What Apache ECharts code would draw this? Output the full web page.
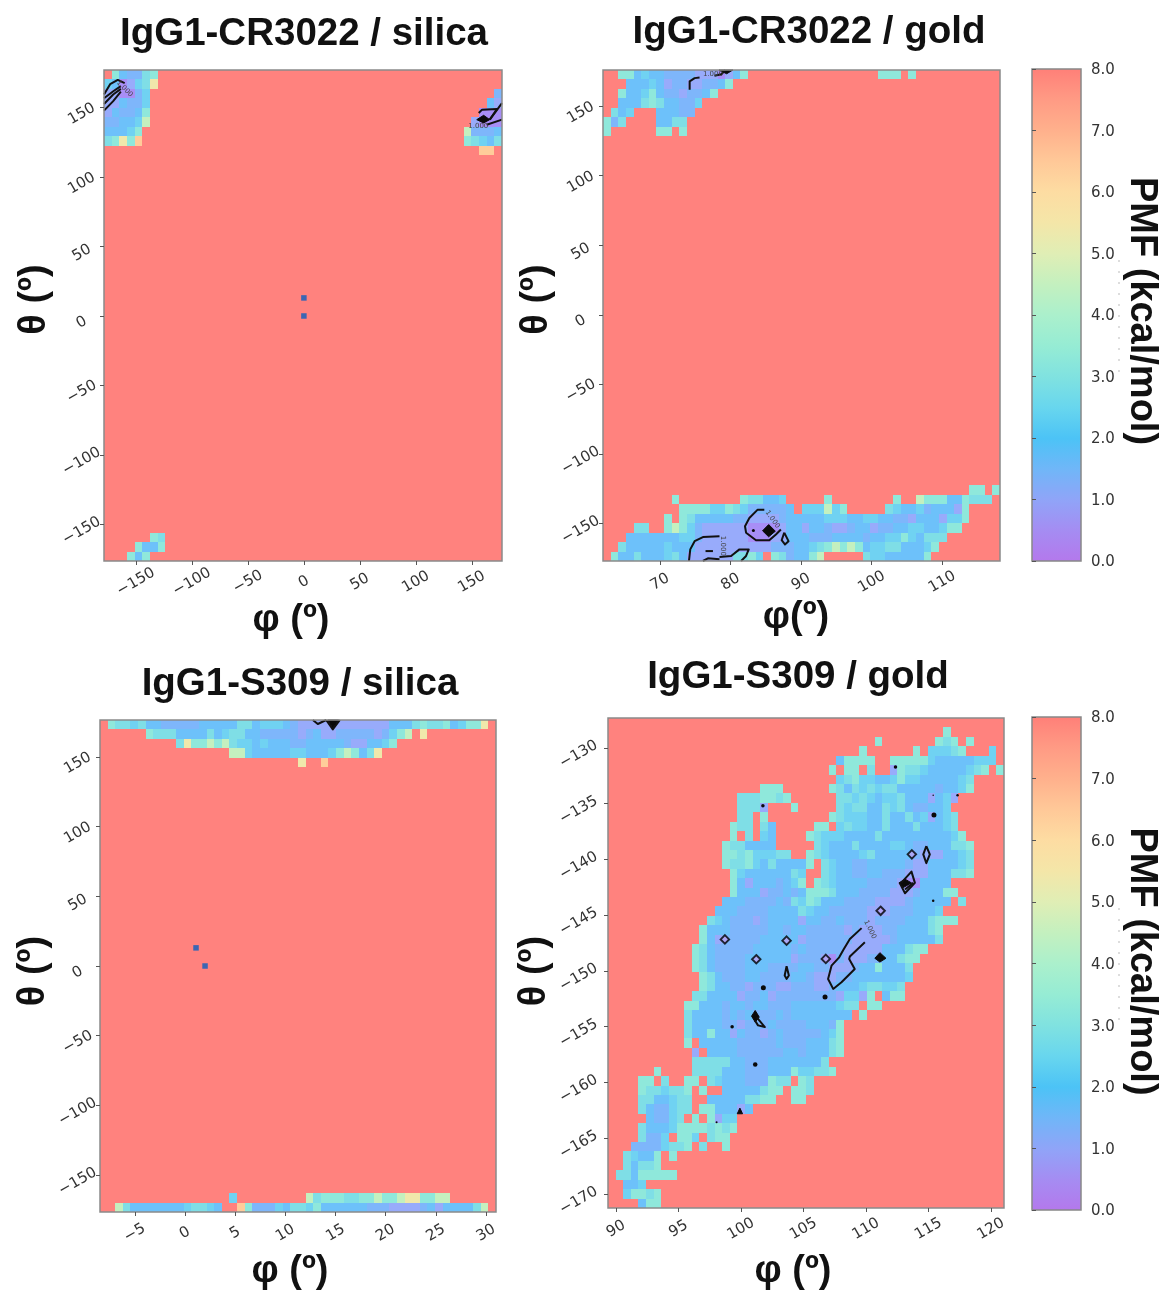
<!DOCTYPE html>
<html><head><meta charset="utf-8">
<style>html,body{margin:0;padding:0;background:#fff}#c{width:1162px;height:1292px;filter:blur(0.45px)}</style>
<script src="https://cdn.jsdelivr.net/npm/echarts@6/dist/echarts.min.js"></script>
</head><body><div id="c"></div>
<script>
// PMF value for each digit used in the cell rows; cells not listed are capped at 8 kcal/mol.
const levelPMF = [0.5, 1.12, 1.55, 1.9, 2.4, 2.85, 3.3, 4.5, 5.4, 6.4];
const gridSize = 52;

// Each cell row: [row from top, first column, digits ('.' = capped cell)]
const cellsCrSilica = [
[0,1,"632256"],[1,0,"4301458"],[2,0,"110024"],[3,0,"113224"],[4,0,"132236"],[5,0,"223347"],[6,0,"33346"],[7,0,"56869"],
[2,51,"2"],[3,50,"31"],[4,49,"000"],[5,48,"1000"],[6,47,"72223"],[7,47,"65435"],[8,49,"99"],
[49,6,"65"],[50,4,"6336"],[51,3,"636"]
];
const cellsCrGold = [
[0,2,"66343322221110136"],[0,36,"666.6"],
[1,3,"33343122112236"],[2,2,"6334632212236"],[3,2,"33356533224"],
[4,1,"534"],[4,7,"33322"],[5,0,"625"],[5,7,"3355"],[6,0,"6"],[6,7,"66.6"],
[44,48,"66.6"],
[45,9,"6"],[45,18,"655334"],[45,29,"6"],[45,38,"6"],[45,41,"7666336555"],
[46,10,"666644654222223"],[46,26,"444746"],[46,37,"54334233316"],
[47,8,"6"],[47,10,"65333 33221 11123 33334 44334 43322 13331 446"],
[48,4,"55"],[48,8,"67642 11111 10000 13313 32112 33122 33443 3466"],
[49,3,"3333333 442 111111 000 11 333 222 3333 2 33 44 6 4 3 555"],
[50,2,"5 33333 4 333 1111111111 222 33 4 5 6 7 6 7 6 3 44 55 333 4 6"],
[51,1,"6335333 45 3 111111 55 6 4 . 6 5 2 3 3 6 7"],[51,34,"544333336"]
];
const cellsS309Silica = [
[0,1,"65545 33 22222 33333 55 3 444 3 2 111111111111 33 3 5 6 5 5 6 3 4 66 8"],
[1,6,"6555 3333 5 3 4 55 33 22222 1 2 3 11 22222 1 2 4 67 . 8"],
[2,10,"586 67 675 44 3 4 333 22 3333 3 2 11 33 4 6"],
[3,17,"77 4 33333 44 33 3 4 6 7 6 3 5 8"],
[4,26,"8"],[4,29,"9"],
[50,17,"4"],[50,27,"7 5 666 55 66 7 6 6 7 88 66 77"],
[51,2,"75 333333 3 4 55 4 3"],[51,18,"96 222 4 3 55 4 6 333333 222 1111 2 3 1 3333 5 7"]
];
const cellsS309Gold = [
[1,44,"6"],
[2,35,"6"],[2,43,"656"],[2,47,"6"],
[3,33,"6"],[3,40,"6"],[3,42,"44456"],[3,50,"4"],
[4,30,"36666"],[4,37,"66666433333444"],
[5,29,"6"],[5,31,"66"],[5,34,"5"],[5,37,"1 655433333456"],[5,51,"6"],
[6,30,"456443346 443333345"],
[7,20,"666"],[7,29,"6535454553333323346"],
[8,17,"5556656"],[8,30,"5545434453331341"],
[9,17,"5551"],[9,24,"6"],[9,30,"545533545322334"],
[10,17,"55"],[10,20,"6"],[10,29,"65444335335341345"],
[11,16,"655"],[11,20,"53"],[11,27,"66"],[11,30,"4544335333533345"],
[12,16,"6"],[12,18,"5"],[12,20,"43"],[12,26,"65444 33335 33333 33334 6"],
[13,15,"6553333"],[13,27,"543335333344322333556"],
[14,15,"665644455"],[14,26,"6543333453333321113345"],
[15,15,"655643533336"],[15,28,"54332233333211333345"],
[16,16,"6433333354"],[16,28,"54332233222111333556"],
[17,16,"6313332346"],[17,27,"654333322221003333"],
[18,16,"6333 1223 2366 6533 3222 2111 2333 66"],
[19,15,"3332 2223 2546 5333 2222 1111 2333 33.5"],
[20,14,"3332222333 3543322222 1112223334"],
[21,13,"5432 2212 3333 1332 2322 2122 2233 3566 6"],
[22,12,"6333 2222 2332 3322 2221 2111 2233 3356"],
[23,12,"6312 2222 3333 3122 2222 1111 1233 3335"],
[24,11,"6532 2222 3333 3232 2222 1111 1333 566"],
[25,11,"6532 2223 3333 3122 2102 1112 2335 66"],
[26,11,"6532 2223 3322 2233 2211 1233 6333 5"],
[27,12,"6532 2233 2222 3321 1122 3333 3334"],
[28,12,"6533 2212 2211 2221 1233 3455 445"],
[29,11,"5533 3312 2312 2222 2221 4416.366"],
[30,10,"6633 3233 2332 2233 3333 455.66"],
[31,10,"5333 3232 3222 3233 3333 33.6"],
[32,10,"5333 3221 2223 2222 3332 6"],
[33,10,"5336 3313 2212 3222 2234 6"],
[34,10,"6.33 3332 2222 3222 3335 6"],
[35,11,"1.33 3322 2222 3323 3356"],
[36,11,"5555 5332 2233 3333 35"],
[37,6,"6"],[37,11,"5555 3332 2233 3644 556"],
[38,4,"66.5..66.543 3322 2655.65"],
[39,4,"6554556.6..333 33566.665"],
[40,4,"5533455..3333 35566..66"],
[41,4,"5322455.66 33313"],
[42,5,"32245.6.6 144"],
[43,4,"5333 4666 6565 6"],
[44,4,"5224.664.566"],
[45,3,"22224556.5..6"],
[46,2,"54336.6"],[47,2,"53556"],[48,1,"55366666"],[49,2,"334"],[50,2,"46656"],[51,4,"366"]
];

// Axis ranges [min, max] and tick values of each panel
const phiCrSilica = [-178.6, 177], thetaCrSilica = [-176.3, 177];
const phiCrGold = [61.9, 118.2], thetaCrGold = [-177, 176];
const phiS309Silica = [-8.47, 31], thetaS309Silica = [-176.4, 176.4];
const phiS309Gold = [89.36, 121.04], thetaS309Gold = [-171.25, -127.32];
const ticksPhiCrSilica = [-150,-100,-50,0,50,100,150];
const ticksPhiCrGold = [70,80,90,100,110];
const ticksPhiS309Silica = [-5,0,5,10,15,20,25,30];
const ticksPhiS309Gold = [90,95,100,105,110,115,120];
const ticksTheta = [-150,-100,-50,0,50,100,150];
const ticksThetaS309Gold = [-170,-165,-160,-155,-150,-145,-140,-135,-130];

// Isolated dark bins [phi, theta]
const binsCrSilica = [[0,13],[0,0]];
const binsS309Silica = [[1.1,13],[2,0]];

// 1 kcal/mol contours in grid units [column, row]
const linesCrSilica = [
 [[0,2.6],[0.8,1.5],[1.8,1.05],[2.7,1.4]],[[0,3.0],[1.3,2.2],[2.2,1.7]],[[0,3.6],[1.2,2.6],[2.2,2.0]],[[0,4.3],[1.2,3.3],[2.2,2.3]],
 [[48.96,4.56],[49.4,4.2],[51.35,4.14],[50.4,5.26]],[[50.4,5.26],[52,3.5]],[[50,5.8],[52,5.26]]
];
const fillsCrSilica = [[[48.7,5.26],[49.6,4.8],[50.4,5.26],[49.6,5.6]]];
const labelsCrSilica = [[2.7,2,-45],[48.9,6,0]];
const linesCrGold = [
 [[11.35,2.1],[11.35,1.2],[12,0.86],[12.65,0.8]],[[14.6,0.6],[15.5,0.45],[16,0.03]],
 [[11.26,52],[11.43,50.77],[12,49.9],[13.09,49.47],[15.26,49.37]],
 [[15.26,51.58],[16.78,51.47],[17.87,50.77],[19.09,50.77],[18.74,51.47],[18.09,52]],
 [[13.09,52],[13.74,51.72],[15.26,51.82]],[[13.43,50.95],[14.4,50.95]],
 [[21.13,46.56],[20.26,46.56],[19.17,47.44],[18.6,48.32],[18.74,49],[20.04,49.8],[21.78,49.8],[22.65,49.2],[23.3,48.67]],
 [[23.74,49],[24.3,49.9],[23.83,50.25],[23.4,49.8],[23.74,49]]
];
const fillsCrGold = [[[20.9,48.8],[21.7,48.14],[22.57,48.84],[21.7,49.44]],[[15.2,0],[17,0],[16.2,0.4]]];
const labelsCrGold = [[14.4,0.4,0],[22.2,47.6,-55],[15.7,50.4,-90]];
const dotsCrGold = [[19.7,48.77,3]];
const linesS309Silica = [[[27.95,0],[28.6,0.42],[29.7,0]],[[29.7,0],[30.57,1],[31.5,0]]];
const fillsS309Silica = [[[29.9,0],[31.35,0],[30.57,0.88]]];
const linesS309Gold = [
 [[41.8,13.6],[42.26,14.47],[41.8,15.4],[41.4,14.47],[41.8,13.6]],
 [[38.5,17.5],[39.85,16.3],[40.3,17.5],[39,18.6],[38.3,17.5]],[[39,18.2],[40.1,17.5]],
 [[33.3,22.3],[31.76,23.45],[30.97,24.52],[30.36,25.4],[29.35,26.28],[28.9,27.69],[29.57,28.75],[30.66,28.04],[32.4,26.63],[31.67,25.58],[31.76,25.3],[33.73,23.8]],
 [[23.45,26.34],[23.75,27.33],[23.45,27.68],[23.2,27.33],[23.45,26.34]],
 [[19.5,31.74],[20.6,32.8],[19.7,32.62],[19.3,32.1]]
];
const fillsS309Gold = [
 [[38.2,17.5],[39,17.1],[39.85,17.5],[38.76,18]],[[35.04,25.5],[35.7,24.9],[36.5,25.5],[35.7,25.9]],
 [[18.85,31.64],[19.33,31.04],[19.86,31.74],[19.33,32.27]],[[16.97,42],[17.32,41.4],[17.67,42]]
];
const ringsS309Gold = [[39.9,14.47],[35.8,20.46],[15.35,23.5],[23.45,23.63],[19.47,25.6],[28.6,25.57]];
const dotsS309Gold = [[37.75,5.2,3.5],[42.7,8.2,1.5],[45.9,8.2,2.5],[42.8,10.3,5],[20.34,9.3,3.5],[16.3,32.76,3.5],[20.4,28.63,5],[28.5,29.6,5],[19.33,36.78,4.5],[14.26,42.9,2],[42.7,19.4,2.5]];
const labelsS309Gold = [[34.4,22.45,-65]];

// Colour scales: colorbar as printed, and the slightly paler map cells
const barStops = ['#b478ec','#a58cf2','#90a4f8','#70b6f8','#4cc3f6','#68d6ee','#80e2e0','#96ecd4','#abf0cc','#c4f0bf','#e0eeb5','#f4e6a8','#fddca2','#ffc898','#ffb08c','#ff9a84','#ff7f78'];
const cellStops = ['#b080f4','#a88ef6','#a0a8fb','#80b4fb','#68c4fa','#72d6f0','#84e2e2','#96ecd6','#abf0cc','#c4f0bf','#e0eeb5','#f4e6a8','#fddca2','#ffc898','#ffb08c','#ff9a84','#ff827e'];
const pmfColor = v => echarts.color.lerp(Math.max(0, Math.min(1, v/8)), cellStops);

const panels = [
 {title:"IgG1-CR3022 / silica", tx:304, ty:15, g:[104,70,398,491], phi:phiCrSilica, theta:thetaCrSilica, cells:cellsCrSilica, tpx:ticksPhiCrSilica, tpy:ticksTheta, ym:26,
  xn:"φ (º)", xpad:[0,24,0,0], xgap:18, ypad:[0,0,0,32], ygap:50, bins:binsCrSilica, lines:linesCrSilica, fills:fillsCrSilica, labels:labelsCrSilica, dots:[], rings:[]},
 {title:"IgG1-CR3022 / gold", tx:809, ty:13, g:[603,70,397,491], phi:phiCrGold, theta:thetaCrGold, cells:cellsCrGold, tpx:ticksPhiCrGold, tpy:ticksTheta, ym:26,
  xn:"φ(º)", xpad:[0,11,0,0], xgap:20, ypad:[0,0,0,32], ygap:46, bins:[], lines:linesCrGold, fills:fillsCrGold, labels:labelsCrGold, dots:dotsCrGold, rings:[]},
 {title:"IgG1-S309 / silica", tx:300, ty:665, g:[100,720,396,494], phi:phiS309Silica, theta:thetaS309Silica, cells:cellsS309Silica, tpx:ticksPhiS309Silica, tpy:ticksTheta, ym:26,
  xn:"φ (º)", xpad:[0,16,0,0], xgap:41, ypad:[0,10,0,0], ygap:43, bins:binsS309Silica, lines:linesS309Silica, fills:fillsS309Silica, labels:[], dots:[], rings:[]},
 {title:"IgG1-S309 / gold", tx:798, ty:658, g:[608,718,396,492], phi:phiS309Gold, theta:thetaS309Gold, cells:cellsS309Gold, tpx:ticksPhiS309Gold, tpy:ticksThetaS309Gold, ym:33,
  xn:"φ (º)", xpad:[0,26,0,0], xgap:45, ypad:[0,16,0,0], ygap:47, bins:[], lines:linesS309Gold, fills:fillsS309Gold, labels:labelsS309Gold, dots:dotsS309Gold, rings:ringsS309Gold}
];
const colorbars = [[1032,69,49,492],[1032,717,49,493]];

function decodeCells(spec){
  const grid = [];
  for(let r=0;r<gridSize;r++){ grid.push(new Array(gridSize).fill(8)); }
  spec.forEach(([r,c,s])=>{
    const t = s.replace(/ /g,'');
    for(let i=0;i<t.length && c+i<gridSize;i++){ if(t[i]!=='.') grid[r][c+i]=levelPMF[+t[i]]; }
  });
  return grid;
}
const minusFmt = v => String(v).replace('-','\u2212');
const boldFont = {fontFamily:'Liberation Sans',fontWeight:'bold',color:'#111'};
const tickFont = {fontFamily:'DejaVu Sans',fontSize:15,color:'#333'};

const option = {animation:false, backgroundColor:'#fff', title:[], grid:[], xAxis:[], yAxis:[], series:[],
  graphic:[
    {type:'line',silent:true,shape:{x1:1119,y1:260,x2:1119,y2:375},style:{stroke:'#bbb',lineWidth:1,lineDash:[2,9]}},
    {type:'line',silent:true,shape:{x1:1119,y1:908,x2:1119,y2:1023},style:{stroke:'#bbb',lineWidth:1,lineDash:[2,9]}}
  ]};
panels.forEach((p,i)=>{
  option.title.push({text:p.title,left:p.tx,top:p.ty,textAlign:'center',padding:0,textStyle:{...boldFont,fontSize:38.5}});
  option.grid.push({left:p.g[0],top:p.g[1],width:p.g[2],height:p.g[3],show:true,backgroundColor:'#ff827e',borderWidth:0});
  option.xAxis.push({type:'value',gridIndex:i,min:p.phi[0],max:p.phi[1],z:5,splitLine:{show:false},
    name:p.xn,nameLocation:'middle',nameGap:p.xgap,nameTextStyle:{...boldFont,fontSize:38,padding:p.xpad},
    axisLine:{show:false,onZero:false},axisTick:{show:true,length:4,inside:false,customValues:p.tpx,lineStyle:{color:'#555'}},
    axisLabel:{...tickFont,rotate:30,margin:21,align:'center',verticalAlign:'middle',customValues:p.tpx,formatter:minusFmt,hideOverlap:false}});
  option.yAxis.push({type:'value',gridIndex:i,min:p.theta[0],max:p.theta[1],z:5,splitLine:{show:false},
    name:"θ (º)",nameLocation:'middle',nameRotate:90,nameGap:p.ygap,nameTextStyle:{...boldFont,fontSize:38,padding:p.ypad},
    axisLine:{show:false,onZero:false},axisTick:{show:true,length:4,customValues:p.tpy,lineStyle:{color:'#555'}},
    axisLabel:{...tickFont,rotate:30,margin:p.ym,align:'center',verticalAlign:'top',customValues:p.tpy,formatter:minusFmt,hideOverlap:false}});

  const dPhi=(p.phi[1]-p.phi[0])/gridSize, dTheta=(p.theta[1]-p.theta[0])/gridSize;
  const toData=(c,r)=>[p.phi[0]+c*dPhi,p.theta[1]-r*dTheta];
  const grid=decodeCells(p.cells), data=[];
  grid.forEach((row,r)=>row.forEach((v,c)=>{const d=toData(c+0.5,r+0.5);data.push([d[0],d[1],v]);}));
  option.series.push({type:'custom',name:p.title,xAxisIndex:i,yAxisIndex:i,z:1,silent:true,clip:true,
    encode:{x:0,y:1},data,
    renderItem:(params,api)=>{
      const a=api.coord([api.value(0)-dPhi/2,api.value(1)+dTheta/2]),b=api.coord([api.value(0)+dPhi/2,api.value(1)-dTheta/2]);
      const x0=Math.round(a[0]),y0=Math.round(a[1]),x1=Math.round(b[0]),y1=Math.round(b[1]);
      return {type:'rect',shape:{x:x0,y:y0,width:x1-x0,height:y1-y0},style:{fill:pmfColor(api.value(2))}};
    }});
  if(p.bins.length){
    option.series.push({type:'scatter',xAxisIndex:i,yAxisIndex:i,z:3,silent:true,symbol:'rect',symbolSize:5.5,itemStyle:{color:'#0a5fc0'},data:p.bins});
  }
  if(p.rings.length){
    option.series.push({type:'scatter',xAxisIndex:i,yAxisIndex:i,z:4,silent:true,symbol:'diamond',symbolSize:8.5,
      itemStyle:{color:'#b9a2f5',borderColor:'#000',borderWidth:1.9},data:p.rings.map(q=>toData(q[0],q[1]))});
  }
  const items=[];
  p.fills.forEach(pts=>items.push({k:'fill',pts}));
  p.lines.forEach(pts=>items.push({k:'line',pts}));
  p.dots.forEach(d=>items.push({k:'dot',pts:[[d[0],d[1]]],s:d[2]}));
  p.labels.forEach(l=>items.push({k:'label',pts:[[l[0],l[1]]],rot:l[2]}));
  items.push({k:'frame',pts:[[0,0],[gridSize,gridSize]]});
  option.series.push({type:'custom',xAxisIndex:i,yAxisIndex:i,z:4,silent:true,clip:false,encode:{x:0,y:1},
    data:items.map((it,n)=>{const d=toData(it.pts[0][0],it.pts[0][1]);return [d[0],d[1],n];}),
    renderItem:(params,api)=>{
      const it=items[api.value(2)];
      const pts=it.pts.map(q=>api.coord(toData(q[0],q[1])));
      if(it.k==='fill') return {type:'polygon',shape:{points:pts},style:{fill:'#0a0a0a',stroke:'#0a0a0a',lineWidth:1}};
      if(it.k==='line') return {type:'polyline',shape:{points:pts},style:{fill:null,stroke:'#111',lineWidth:2,lineJoin:'round'}};
      if(it.k==='dot') return {type:'circle',shape:{cx:pts[0][0],cy:pts[0][1],r:it.s/2},style:{fill:'#0a0a0a'}};
      if(it.k==='label') return {type:'text',x:pts[0][0],y:pts[0][1],rotation:it.rot*Math.PI/180,
        style:{text:'1.000',fill:'#444',font:'7px "DejaVu Sans"',align:'center',verticalAlign:'middle'}};
      return {type:'rect',shape:{x:pts[0][0],y:pts[0][1],width:pts[1][0]-pts[0][0],height:pts[1][1]-pts[0][1]},style:{fill:null,stroke:'#8a8a8a',lineWidth:1.5}};
    }});
});
colorbars.forEach((b,n)=>{
  const i=panels.length+n;
  option.grid.push({left:b[0],top:b[1],width:b[2],height:b[3]});
  option.xAxis.push({type:'value',gridIndex:i,min:0,max:1,show:false});
  option.yAxis.push({type:'value',gridIndex:i,position:'right',min:0,max:8,interval:1,z:5,splitLine:{show:false},
    name:"PMF (kcal/mol)",nameLocation:'middle',nameRotate:-90,nameGap:41,nameTextStyle:{...boldFont,fontSize:38,padding:n?[0,4,0,0]:[0,8,0,0]},
    axisLine:{show:false},axisTick:{show:true,length:4,lineStyle:{color:'#555'}},
    axisLabel:{...tickFont,margin:10,verticalAlign:'top',padding:[-6,0,0,0],formatter:v=>v.toFixed(1)}});
  option.series.push({type:'custom',xAxisIndex:i,yAxisIndex:i,z:2,silent:true,encode:{x:0,y:1},clip:false,
    data:[[0,0]],
    renderItem:(params,api)=>{
      const a=api.coord([0,8]),c=api.coord([1,0]);
      const stops=barStops.map((s,k)=>({offset:1-k/(barStops.length-1),color:s})).reverse();
      return {type:'rect',shape:{x:a[0],y:a[1],width:c[0]-a[0],height:c[1]-a[1]},
        style:{fill:new echarts.graphic.LinearGradient(0,0,0,1,stops),stroke:'#888',lineWidth:1.5}};
    }});
});
const chart=echarts.init(document.getElementById('c'),null,{renderer:'canvas'});
chart.setOption(option);
</script></body></html>
